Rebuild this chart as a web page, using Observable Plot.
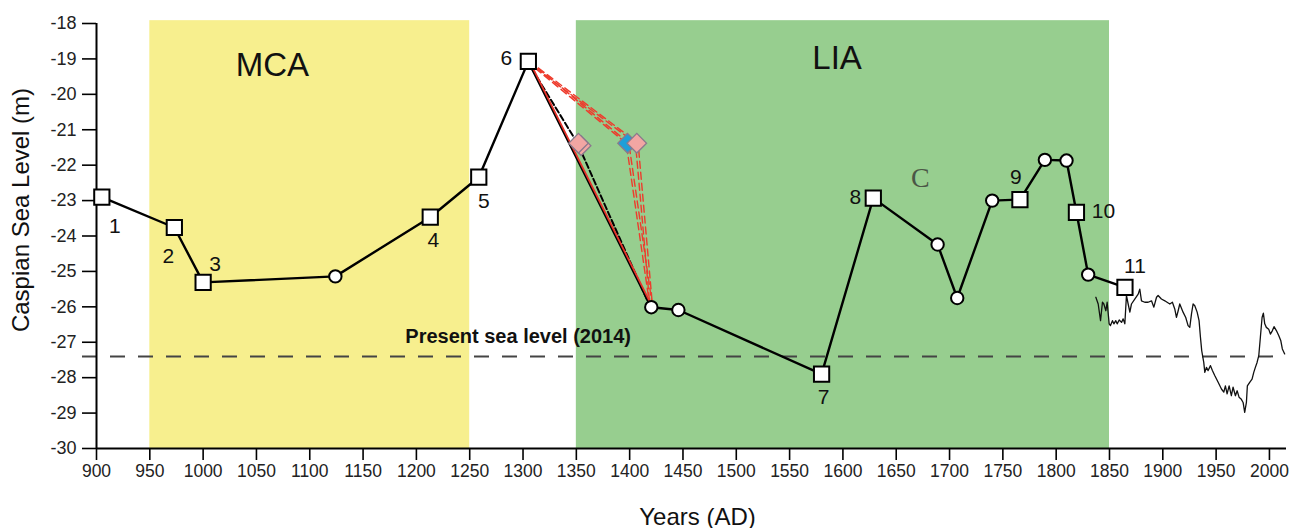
<!DOCTYPE html>
<html><head><meta charset="utf-8">
<script src="https://cdn.jsdelivr.net/npm/d3@7"></script>
<script src="https://cdn.jsdelivr.net/npm/@observablehq/plot@0.6"></script>
<style>
body{margin:0;background:#fff;}
#chart svg{display:block;}
</style></head><body><div id="chart"></div>
<script>
// Dated samples (squares), numbered 1-11
const squareIds = ["1","2","3","4","5","6","7","8","9","10","11"];
const squareYears = [905, 973, 1000, 1213, 1258.5, 1305, 1580, 1628.5, 1766, 1819, 1864.5];
const squareLevels = [-22.9, -23.76, -25.31, -23.47, -22.34, -19.07, -27.9, -22.93, -22.97, -23.33, -25.45];
// Undated / interpolated points (circles)
const circleYears = [1124, 1420.3, 1445.7, 1688.8, 1707.2, 1740, 1789.4, 1809.7, 1830];
const circleLevels = [-25.14, -26.01, -26.09, -24.24, -25.75, -23.0, -21.85, -21.87, -25.09];
// Alternative age models (diamonds)
const diamondYears = [1354.5, 1352, 1398, 1406.7];
const diamondLevels = [-21.45, -21.38, -21.38, -21.38];
const diamondKinds = ["pink", "pink", "blue", "pink"];
// Instrumental record
const instYears = [1837.2,1839.4,1841.6,1843.4,1844.7,1846.6,1847.8,1849.7,1850.9,1852.8,1854.1,1855.9,1857.2,1859.1,1861.3,1862.8,1864.4,1865.9,1867.5,1869.1,1870.6,1873.7,1876.9,1878.4,1880.0,1883.1,1886.2,1889.4,1891.6,1894.1,1895.6,1898.7,1901.9,1904.0,1906.6,1909.0,1911.2,1912.8,1914.4,1915.9,1919.0,1921.5,1923.7,1925.3,1926.9,1928.4,1930.0,1932.2,1934.0,1935.3,1936.5,1938.4,1939.4,1940.9,1942.5,1944.7,1946.5,1948.7,1951.9,1955.0,1957.2,1958.7,1960.3,1962.2,1964.3,1965.9,1968.1,1969.7,1971.5,1973.4,1975.3,1976.8,1978.4,1979.3,1981.5,1983.7,1985.3,1986.8,1988.4,1990.0,1991.5,1993.1,1994.3,1995.6,1997.1,1999.3,2000.9,2002.8,2004.3,2006.5,2008.7,2010.6,2012.1,2014.3];
const instLevels = [-25.73,-25.92,-26.39,-25.87,-25.92,-26.11,-25.87,-26.48,-26.53,-26.39,-26.48,-26.39,-26.48,-26.37,-26.44,-26.34,-26.48,-25.68,-25.92,-26.15,-25.92,-25.78,-25.64,-25.50,-25.83,-25.87,-25.87,-25.83,-26.01,-25.73,-25.68,-25.78,-25.83,-25.87,-25.92,-25.87,-26.06,-26.30,-26.11,-25.92,-26.15,-26.30,-26.53,-26.58,-26.20,-25.92,-25.97,-26.15,-26.39,-26.86,-27.24,-27.57,-27.85,-27.71,-27.80,-27.66,-27.80,-27.94,-28.13,-28.32,-28.41,-28.23,-28.46,-28.23,-28.51,-28.27,-28.51,-28.37,-28.55,-28.60,-28.70,-28.98,-28.70,-28.23,-28.13,-28.04,-27.85,-27.71,-27.57,-27.38,-26.86,-26.30,-26.18,-26.48,-26.58,-26.63,-26.77,-26.67,-26.56,-26.67,-26.81,-26.95,-27.19,-27.33];
// Periods
const periodNames = ["MCA", "LIA"];
const periodStart = [950, 1350];
const periodEnd = [1250, 1850];
const periodLabelYears = [1065, 1594.5];
const periodLabelLevels = [-19.18, -18.98];
const presentLevel = -27.4;
const presentLabel = "Present sea level (2014)";
const presentLabelYear = 1189.6;
const panelLetter = "C";
const panelLetterYear = 1672.7, panelLetterLevel = -22.37;
const xTicks = d3.range(900, 2001, 50);
const yTicks = d3.range(-30, -17, 1);

// label offsets (px) for the numbered samples
const labelDx = [13, -6, 12, 3, 5, -22, 2, -18, -4, 27, 10];
const labelDy = [29, 29, -18, 23, 24, -3, 23, -1, -22, -1, -21];

const squares = squareIds.map((id, i) => ({id, year: squareYears[i], level: squareLevels[i]}));
const circles = circleYears.map((y, i) => ({year: y, level: circleLevels[i]}));
const mainLine = [...squares, ...circles].sort((a, b) => a.year - b.year);
const diamonds = diamondYears.map((y, i) => ({year: y, level: diamondLevels[i], kind: diamondKinds[i]}));
const inst = instYears.map((y, i) => ({year: y, level: instLevels[i]}));
const s6 = squares[5];
const c1420 = circles[1];
const redSolid = [s6, c1420];
const redDashA = [s6, diamonds[2], c1420];
const redDashB = [s6, diamonds[3], c1420];
const blackDash = [s6, diamonds[1], c1420];

const colors = {MCA: "#f7ef8e", LIA: "#97ce8f"};
const font = "Arial, 'Liberation Sans', Helvetica, sans-serif";

const marks = [];
periodNames.forEach((n, i) => {
  marks.push(Plot.rect([i], {x1: () => periodStart[i], x2: () => periodEnd[i], y1: -30, y2: -17.92, fill: colors[n]}));
});
marks.push(
  Plot.ruleY([presentLevel], {stroke: "#444", strokeWidth: 2, strokeDasharray: "15,13", insetLeft: -14}),
  Plot.axisY({ticks: yTicks, tickSize: 14, tickPadding: 6, fontSize: 18, tickFormat: d => String(d), label: null, stroke: "#000", strokeWidth: 1.6, fill: "#222"}),
  Plot.axisX({ticks: xTicks, tickSize: 12, tickPadding: 4.5, fontSize: 17.5, tickFormat: d => String(d), label: null, stroke: "#000", strokeWidth: 1.6, fill: "#222"}),
  Plot.ruleX([900], {y1: -30, y2: -18, stroke: "#000", strokeWidth: 2}),
  Plot.ruleY([-30], {stroke: "#000", strokeWidth: 2}),
  Plot.line(inst, {x: "year", y: "level", stroke: "#111", strokeWidth: 1.3}),
  Plot.line(mainLine, {x: "year", y: "level", stroke: "#000", strokeWidth: 2.4}),
  Plot.line(blackDash, {x: "year", y: "level", stroke: "#000", strokeWidth: 2, strokeDasharray: "6,3", dx: -1}),
  Plot.line(redSolid, {x: "year", y: "level", stroke: "#e8322a", strokeWidth: 1.8, dx: 1.2}),
  Plot.line(redDashA, {x: "year", y: "level", stroke: "#ee3b2c", strokeWidth: 1.4, strokeDasharray: "7,4", dx: -1.3}),
  Plot.line(redDashA, {x: "year", y: "level", stroke: "#ee3b2c", strokeWidth: 1.4, strokeDasharray: "7,4", dx: 1.3}),
  Plot.line(redDashB, {x: "year", y: "level", stroke: "#ee3b2c", strokeWidth: 1.4, strokeDasharray: "7,4", dx: -1.3}),
  Plot.line(redDashB, {x: "year", y: "level", stroke: "#ee3b2c", strokeWidth: 1.4, strokeDasharray: "7,4", dx: 1.3}),
  Plot.dot(circles, {x: "year", y: "level", r: 6.2, fill: "#fff", stroke: "#000", strokeWidth: 2}),
  Plot.dot(squares, {x: "year", y: "level", symbol: "square", r: 8.6, fill: "#fff", stroke: "#000", strokeWidth: 2}),
  Plot.dot(diamonds, {x: "year", y: "level", symbol: "square", rotate: 45, r: 7.8, fill: d => d.kind === "blue" ? "#1e9fd8" : "#f2a6a3", stroke: "#8a7a8c", strokeWidth: 1.3})
);
squares.forEach((s, i) => {
  marks.push(Plot.text([s], {x: "year", y: "level", text: "id", dx: labelDx[i], dy: labelDy[i], fontSize: 21, fill: "#111", lineAnchor: "middle"}));
});
periodNames.forEach((n, i) => {
  marks.push(Plot.text([n], {x: () => periodLabelYears[i], y: () => periodLabelLevels[i], text: d => d, fontSize: 33, fill: "#111", lineAnchor: "middle"}));
});
marks.push(
  Plot.text([panelLetter], {x: () => panelLetterYear, y: () => panelLetterLevel, text: d => d, fontSize: 28, fontFamily: "'Liberation Serif', 'Times New Roman', serif", fill: "#4b5646", lineAnchor: "middle"}),
  Plot.text([presentLabel], {x: () => presentLabelYear, y: () => presentLevel, text: d => d, dy: -19.5, fontSize: 20, fontWeight: "bold", textAnchor: "start", fill: "#111", lineAnchor: "middle"}),
  Plot.text(["Caspian Sea Level (m)"], {frameAnchor: "left", text: d => d, dx: -75.5, dy: -26, rotate: -90, fontSize: 24, fill: "#111", textAnchor: "middle", lineAnchor: "middle"}),
  Plot.text(["Years (AD)"], {frameAnchor: "bottom", text: d => d, dx: 6, dy: 68.6, fontSize: 24, fill: "#111", textAnchor: "middle", lineAnchor: "middle"})
);

const chart = Plot.plot({
  width: 1297, height: 528,
  marginLeft: 96, marginRight: 11, marginTop: 23, marginBottom: 80,
  x: {domain: [900, 2016]},
  y: {domain: [-30, -18]},
  style: {fontFamily: font, background: "#fff", overflow: "visible"},
  marks
});
document.getElementById("chart").appendChild(chart);
</script>
</body></html>
